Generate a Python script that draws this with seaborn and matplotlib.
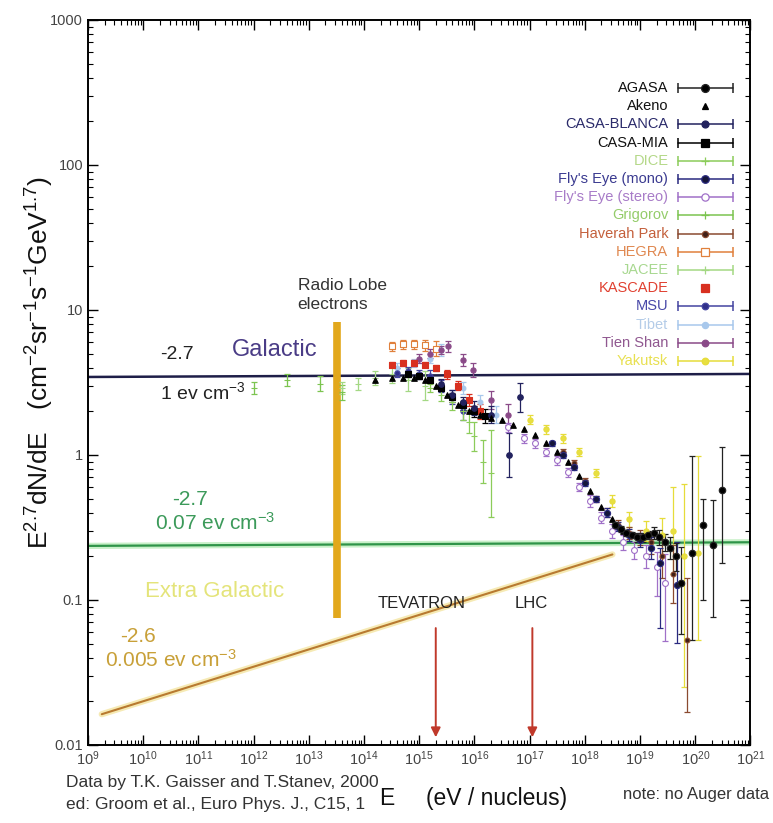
import numpy as np
import pandas as pd
import seaborn as sns
import matplotlib.pyplot as plt
from matplotlib.ticker import FixedLocator, FuncFormatter, NullFormatter, LogFormatterSciNotation

# ---------------- data: log10(E/eV), E^2.7 dN/dE, error bars in dex ----------------
agasa_logE = [18.55, 18.65, 18.75, 18.85, 18.95, 19.05, 19.15, 19.25, 19.35, 19.45, 19.55, 19.65, 19.75, 19.95, 20.14, 20.32, 20.48]
agasa_flux = [0.33, 0.31, 0.29, 0.28, 0.27, 0.27, 0.28, 0.29, 0.27, 0.25, 0.23, 0.20, 0.13, 0.21, 0.33, 0.24, 0.57]
agasa_lo = [0.02, 0.02, 0.02, 0.02, 0.03, 0.03, 0.03, 0.04, 0.05, 0.06, 0.08, 0.10, 0.35, 0.60, 0.52, 0.50, 0.50]
agasa_hi = [0.02, 0.02, 0.02, 0.02, 0.03, 0.03, 0.03, 0.04, 0.05, 0.06, 0.07, 0.09, 0.25, 0.67, 0.18, 0.31, 0.30]

akeno_logE = [14.2, 14.5, 14.7, 14.9, 15.1, 15.3, 15.5, 15.7, 15.9, 16.1, 16.3, 16.5, 16.7, 16.9, 17.1, 17.3, 17.5, 17.7, 17.9, 18.1, 18.3, 18.5, 18.7, 18.9]
akeno_flux = [3.3, 3.4, 3.4, 3.4, 3.3, 3.0, 2.6, 2.2, 2.0, 1.9, 1.8, 1.75, 1.6, 1.5, 1.38, 1.2, 1.05, 0.9, 0.72, 0.56, 0.44, 0.36, 0.30, 0.28]

casab_logE = [15.4, 15.6, 15.8, 16.0, 16.3, 16.63, 16.83]
casab_flux = [3.1, 2.6, 2.3, 2.1, 1.9, 1.0, 2.5]
casab_err = [0.03, 0.03, 0.04, 0.05, 0.06, 0.15, 0.10]

casam_logE = [14.8, 15.0, 15.2, 15.4, 15.6, 15.8, 16.0, 16.2]
casam_flux = [3.6, 3.5, 3.3, 2.9, 2.5, 2.2, 2.0, 1.85]
casam_err = [0.02, 0.02, 0.02, 0.02, 0.03, 0.03, 0.04, 0.05]

dice_logE = [15.2, 15.4, 15.6, 15.8, 15.9, 16.0, 16.15, 16.3]
dice_flux = [2.9, 2.6, 2.3, 2.0, 1.7, 1.35, 0.9, 0.75]
dice_err = [0.03, 0.04, 0.05, 0.06, 0.08, 0.10, 0.15, 0.30]

fem_logE = [17.4, 17.6, 17.8, 18.0, 18.2, 18.4, 18.6, 18.8, 19.0, 19.2, 19.36, 19.67]
fem_flux = [1.2, 1.0, 0.82, 0.64, 0.5, 0.4, 0.32, 0.28, 0.26, 0.23, 0.18, 0.126]
fem_lo = [0.02, 0.02, 0.02, 0.02, 0.02, 0.03, 0.03, 0.04, 0.05, 0.08, 0.45, 0.40]
fem_hi = [0.02, 0.02, 0.02, 0.02, 0.02, 0.03, 0.03, 0.04, 0.05, 0.07, 0.10, 0.30]

fes_logE = [16.6, 16.9, 17.1, 17.3, 17.5, 17.7, 17.9, 18.1, 18.3, 18.5, 18.7, 18.9, 19.1, 19.3, 19.45]
fes_flux = [1.55, 1.3, 1.2, 1.05, 0.92, 0.76, 0.6, 0.48, 0.37, 0.3, 0.25, 0.22, 0.2, 0.17, 0.13]
fes_lo = [0.03, 0.03, 0.03, 0.03, 0.03, 0.03, 0.03, 0.04, 0.04, 0.05, 0.05, 0.06, 0.08, 0.2, 0.4]
fes_hi = [0.03, 0.03, 0.03, 0.03, 0.03, 0.03, 0.03, 0.04, 0.04, 0.05, 0.05, 0.06, 0.08, 0.1, 0.2]

grig_logE = [12.0, 12.6, 13.2, 13.6]
grig_flux = [2.9, 3.3, 3.1, 2.7]
grig_err = [0.04, 0.04, 0.05, 0.05]

hav_logE = [17.6, 17.8, 18.0, 18.2, 18.4, 18.6, 18.8, 19.0, 19.2, 19.4, 19.6, 19.85]
hav_flux = [1.05, 0.88, 0.66, 0.5, 0.4, 0.33, 0.29, 0.27, 0.25, 0.2, 0.15, 0.053]
hav_lo = [0.02, 0.02, 0.02, 0.02, 0.03, 0.03, 0.04, 0.05, 0.08, 0.15, 0.2, 0.5]
hav_hi = [0.02, 0.02, 0.02, 0.02, 0.03, 0.03, 0.04, 0.05, 0.07, 0.12, 0.2, 0.43]

hegra_logE = [14.5, 14.7, 14.9, 15.1, 15.3]
hegra_flux = [5.6, 5.8, 5.8, 5.7, 5.4]
hegra_err = [0.03, 0.03, 0.03, 0.04, 0.05]

jacee_logE = [13.6, 13.9, 14.2, 14.5, 14.8, 15.1]
jacee_flux = [2.9, 3.1, 3.4, 3.6, 3.3, 3.0]
jacee_err = [0.04, 0.04, 0.05, 0.06, 0.08, 0.10]

kas_logE = [14.5, 14.7, 14.9, 15.1, 15.3, 15.5, 15.7, 15.9, 16.1]
kas_flux = [4.2, 4.3, 4.3, 4.2, 4.0, 3.6, 3.0, 2.4, 2.0]
kas_err = [0.02, 0.02, 0.02, 0.02, 0.02, 0.03, 0.03, 0.04, 0.05]

msu_logE = [14.6, 14.8, 15.0, 15.2, 15.4, 15.6, 15.8]
msu_flux = [3.7, 3.8, 3.6, 3.5, 3.0, 2.5, 2.0]
msu_err = [0.03, 0.03, 0.03, 0.04, 0.04, 0.05, 0.06]

tibet_logE = [14.6, 14.9, 15.2, 15.4, 15.8, 16.1, 16.4]
tibet_flux = [4.0, 4.3, 4.6, 5.3, 2.9, 2.3, 1.9]
tibet_err = [0.03, 0.03, 0.03, 0.04, 0.04, 0.05, 0.06]

tien_logE = [15.0, 15.2, 15.4, 15.53, 15.8, 15.97, 16.3, 16.6]
tien_flux = [4.6, 5.0, 5.3, 5.6, 4.5, 3.85, 2.4, 1.9]
tien_err = [0.03, 0.03, 0.03, 0.04, 0.04, 0.05, 0.06, 0.07]

yak_logE = [17.0, 17.3, 17.6, 17.9, 18.2, 18.5, 18.8, 19.1, 19.4, 19.6, 19.8, 20.05]
yak_flux = [1.75, 1.5, 1.3, 1.05, 0.75, 0.48, 0.36, 0.3, 0.28, 0.3, 0.2, 0.21]
yak_lo = [0.03, 0.03, 0.03, 0.03, 0.03, 0.04, 0.05, 0.07, 0.15, 0.3, 0.9, 0.6]
yak_hi = [0.03, 0.03, 0.03, 0.03, 0.03, 0.04, 0.05, 0.07, 0.12, 0.3, 0.5, 0.67]

# component lines
galactic_logE = [9.0, 21.0]
galactic_flux = [3.45, 3.62]
extra_logE = [9.0, 21.0]
extra_flux = [0.236, 0.25]
eg_logE = [9.25, 18.5]
eg_flux = [0.0163, 0.206]
radio_logE = 13.51
radio_flux = [0.075, 8.3]
tevatron_logE = 15.3
lhc_logE = 17.05

x_decades = list(range(9, 22))
y_decades = [-2, -1, 0, 1, 2, 3]

legend_names = ["AGASA", "Akeno", "CASA-BLANCA", "CASA-MIA", "DICE", "Fly's Eye (mono)",
                "Fly's Eye (stereo)", "Grigorov", "Haverah Park", "HEGRA", "JACEE", "KASCADE",
                "MSU", "Tibet", "Tien Shan", "Yakutsk"]

# ---------------- style ----------------
sns.set_theme(style="ticks")
plt.rcParams['font.family'] = ['Liberation Sans', 'DejaVu Sans']
plt.rcParams['mathtext.fontset'] = 'custom'
plt.rcParams['mathtext.rm'] = 'Liberation Sans'
plt.rcParams['mathtext.it'] = 'Liberation Sans:italic'
plt.rcParams['mathtext.bf'] = 'Liberation Sans:bold'

# name: (marker, face, bar/line colour, text colour, size, draw bar in legend)
styles = {
    "AGASA": ("o", "black", "#222222", "#111111", 22, True),
    "Akeno": ("^", "black", "black", "#111111", 16, False),
    "CASA-BLANCA": ("o", "#22225e", "#22225e", "#2a2a6a", 16, True),
    "CASA-MIA": ("s", "black", "black", "#111111", 20, True),
    "DICE": ("+", "#8ccc5a", "#8ccc5a", "#b4d888", 22, True),
    "Fly's Eye (mono)": ("o", "#15153a", "#2a2a80", "#3a3a90", 20, True),
    "Fly's Eye (stereo)": ("o", "white", "#a070c8", "#a87cc8", 18, True),
    "Grigorov": ("+", "#7cc450", "#7cc450", "#94cc6a", 22, True),
    "Haverah Park": ("o", "#402018", "#8a4a30", "#c4603c", 12, True),
    "HEGRA": ("s", "white", "#e0803c", "#e08850", 18, True),
    "JACEE": ("+", "#a4d884", "#a4d884", "#a8d890", 20, True),
    "KASCADE": ("s", "#d83020", "#d83020", "#e04030", 18, False),
    "MSU": ("o", "#30308a", "#4444a0", "#4848a8", 14, True),
    "Tibet": ("o", "#a8c8ec", "#a8c8ec", "#b4cce8", 12, True),
    "Tien Shan": ("o", "#8a4a88", "#8a4a88", "#905890", 14, True),
    "Yakutsk": ("o", "#e8e040", "#e6dc3a", "#e8e050", 14, True),
}

series = [
    ("Tibet", tibet_logE, tibet_flux, tibet_err, tibet_err),
    ("Yakutsk", yak_logE, yak_flux, yak_lo, yak_hi),
    ("Grigorov", grig_logE, grig_flux, grig_err, grig_err),
    ("JACEE", jacee_logE, jacee_flux, jacee_err, jacee_err),
    ("HEGRA", hegra_logE, hegra_flux, hegra_err, hegra_err),
    ("Tien Shan", tien_logE, tien_flux, tien_err, tien_err),
    ("KASCADE", kas_logE, kas_flux, kas_err, kas_err),
    ("MSU", msu_logE, msu_flux, msu_err, msu_err),
    ("DICE", dice_logE, dice_flux, dice_err, dice_err),
    ("CASA-MIA", casam_logE, casam_flux, casam_err, casam_err),
    ("CASA-BLANCA", casab_logE, casab_flux, casab_err, casab_err),
    ("Fly's Eye (stereo)", fes_logE, fes_flux, fes_lo, fes_hi),
    ("Haverah Park", hav_logE, hav_flux, hav_lo, hav_hi),
    ("Fly's Eye (mono)", fem_logE, fem_flux, fem_lo, fem_hi),
    ("Akeno", akeno_logE, akeno_flux, None, None),
    ("AGASA", agasa_logE, agasa_flux, agasa_lo, agasa_hi),
]

fig = plt.figure(figsize=(7.73, 8.23), dpi=100)
ax = fig.add_axes([0.1138, 0.0948, 0.857, 0.881])
ax.set_xscale('log')
ax.set_yscale('log')

# component lines
sns.lineplot(x=np.power(10.0, galactic_logE), y=galactic_flux, ax=ax, color="#1e1e48", lw=1.8, zorder=2)
sns.lineplot(x=np.power(10.0, extra_logE), y=extra_flux, ax=ax, color="#c8f0c8", lw=4.5, zorder=1.5)
sns.lineplot(x=np.power(10.0, extra_logE), y=extra_flux, ax=ax, color="#2e9448", lw=1.6, zorder=2)
sns.lineplot(x=np.power(10.0, eg_logE), y=eg_flux, ax=ax, color="#f6eab4", lw=4.5, zorder=1.5)
sns.lineplot(x=np.power(10.0, eg_logE), y=eg_flux, ax=ax, color="#b87a30", lw=1.5, zorder=2)
ax.plot([10 ** radio_logE] * 2, radio_flux, color="#e2a81c", lw=5.5, solid_capstyle='butt', zorder=2.5)

# data
for name, logE, flux, lo, hi in series:
    mk, fc, ec, tc, ms, bar = styles[name]
    E = np.power(10.0, logE)
    f = np.asarray(flux, dtype=float)
    if lo is not None:
        yerr = [f - f / 10 ** np.asarray(lo), f * 10 ** np.asarray(hi) - f]
        ax.errorbar(E, f, yerr=yerr, fmt='none', ecolor=ec, elinewidth=0.9,
                    capsize=2.5, capthick=0.9, zorder=3)
    df = pd.DataFrame({'E': E, 'flux': f})
    sns.scatterplot(data=df, x='E', y='flux', ax=ax, marker=mk, s=ms, color=ec,
                    facecolor=fc, edgecolor=ec, linewidth=0.8, zorder=4, legend=False)

# accelerator arrows
for lx in [tevatron_logE, lhc_logE]:
    ax.annotate("", xy=(10 ** lx, 0.0113), xytext=(10 ** lx, 0.064),
                arrowprops=dict(arrowstyle="-|>", color="#c0392b", lw=1.4,
                                mutation_scale=14, shrinkA=0, shrinkB=0))
ax.text(10 ** 15.05, 0.094, "TEVATRON", ha='center', va='center', fontsize=12, color="#222222")
ax.text(10 ** 17.03, 0.094, "LHC", ha='center', va='center', fontsize=12, color="#222222")

# annotations
ax.text(10 ** 12.8, 16.6, "Radio Lobe\nelectrons", ha='left', va='top', fontsize=12.5,
        color="#333333", linespacing=1.3)
ax.text(10 ** 10.3, 4.9, "-2.7", ha='left', va='center', fontsize=14, color="#222222")
ax.text(10 ** 11.61, 5.3, "Galactic", ha='left', va='center', fontsize=17, color="#4a3c86")
ax.text(10 ** 10.3, 2.72, "1 ev cm$^{-3}$", ha='left', va='center', fontsize=14, color="#222222")
ax.text(10 ** 10.52, 0.49, "-2.7", ha='left', va='center', fontsize=15, color="#3c9a5a")
ax.text(10 ** 10.21, 0.34, "0.07 ev cm$^{-3}$", ha='left', va='center', fontsize=15, color="#3c9a5a")
ax.text(10 ** 10.03, 0.115, "Extra Galactic", ha='left', va='center', fontsize=16, color="#e4e47a")
ax.text(10 ** 9.58, 0.0556, "-2.6", ha='left', va='center', fontsize=15, color="#c8a038")
ax.text(10 ** 9.31, 0.0386, "0.005 ev cm$^{-3}$", ha='left', va='center', fontsize=15, color="#c8a038")

# hand-made legend (label, error bar, marker)
row0, drow = 0.906, 0.0251
for i, name in enumerate(legend_names):
    mk, fc, ec, tc, ms, bar = styles[name]
    yy = row0 - i * drow
    ax.text(0.876, yy, name, transform=ax.transAxes, ha='right', va='center',
            fontsize=10.5, color=tc)
    if bar:
        ax.plot([0.891, 0.973], [yy, yy], transform=ax.transAxes, color=ec, lw=1.1)
        ax.plot([0.891, 0.973], [yy, yy], transform=ax.transAxes, ls='none',
                marker='|', ms=7, mew=1.1, color=ec)
    ax.plot([0.932], [yy], transform=ax.transAxes, ls='none', marker=mk,
            ms=np.sqrt(ms) + 1, mfc=fc, mec=ec, mew=0.9)

# axes
ax.set_xlim(1e9, 1e21)
ax.set_ylim(0.01, 1000)
ax.xaxis.set_major_locator(FixedLocator([10.0 ** d for d in x_decades]))
ax.xaxis.set_minor_locator(FixedLocator([k * 10.0 ** d for d in x_decades[:-1] for k in range(2, 10)]))
ax.yaxis.set_major_locator(FixedLocator([10.0 ** d for d in y_decades]))
ax.yaxis.set_minor_locator(FixedLocator([k * 10.0 ** d for d in y_decades[:-1] for k in range(2, 10)]))
ax.xaxis.set_major_formatter(LogFormatterSciNotation())
ax.yaxis.set_major_formatter(FuncFormatter(lambda v, _: f"{v:g}"))
ax.xaxis.set_minor_formatter(NullFormatter())
ax.yaxis.set_minor_formatter(NullFormatter())
ax.tick_params(which='both', direction='in', top=True, right=True, colors='black',
               labelcolor='#444444', labelsize=10.5)
ax.tick_params(which='major', length=7, width=1.0)
ax.tick_params(which='minor', length=3.5, width=0.8)
for sp in ax.spines.values():
    sp.set_linewidth(1.4)
    sp.set_color('black')
ax.set_xlabel("")
ax.set_ylabel("")

fig.text(0.052, 0.56, "E$^{2.7}$dN/dE   (cm$^{-2}$sr$^{-1}$s$^{-1}$GeV$^{1.7}$)",
         rotation=90, ha='center', va='center', fontsize=19, color='#111111')
fig.text(0.490, 0.030, "E", ha='left', va='center', fontsize=16.5, color='#111111')
fig.text(0.551, 0.030, "(eV / nucleus)", ha='left', va='center', fontsize=16.5, color='#111111')
fig.text(0.086, 0.049, "Data by T.K. Gaisser and T.Stanev, 2000", ha='left', va='center',
         fontsize=12.5, color='#333333')
fig.text(0.086, 0.022, "ed: Groom et al., Euro Phys. J., C15, 1", ha='left', va='center',
         fontsize=12.5, color='#333333')
fig.text(0.806, 0.035, "note: no Auger data", ha='left', va='center', fontsize=12, color='#333333')

fig.savefig("out.png", dpi=100)
